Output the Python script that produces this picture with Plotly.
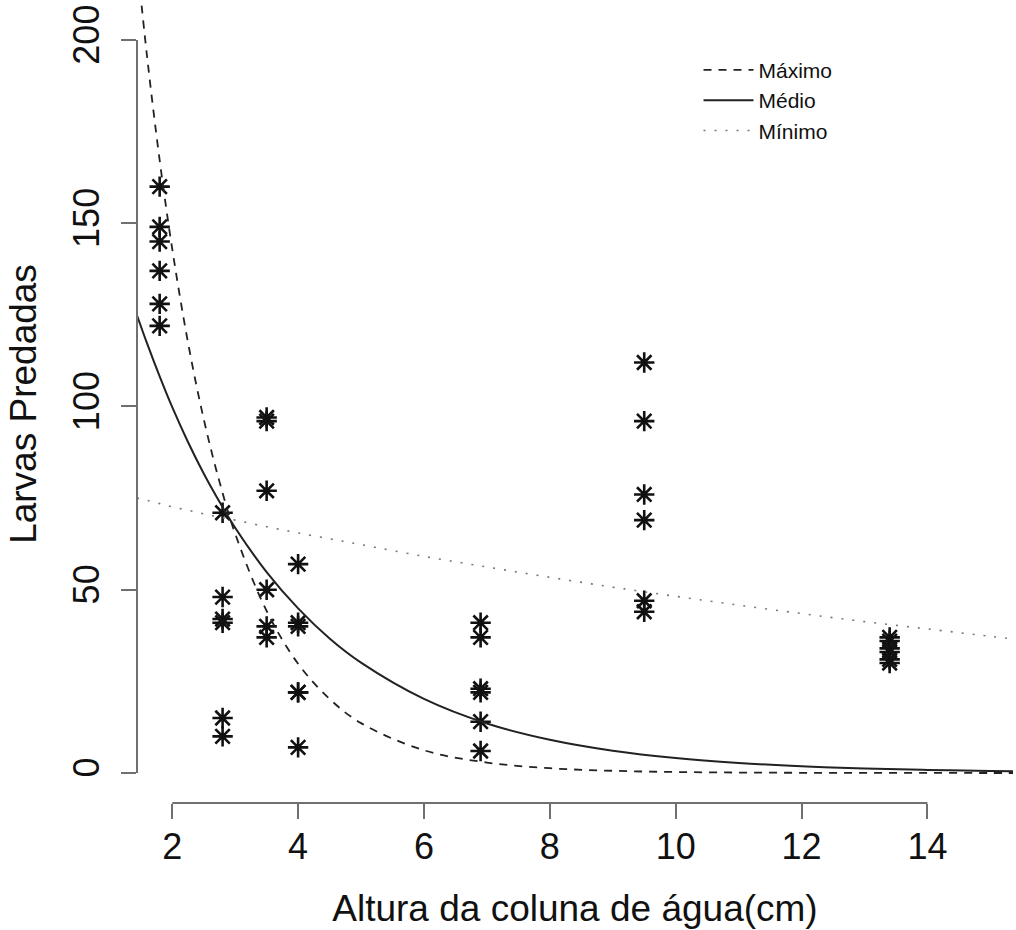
import plotly.graph_objects as go

# Observed data: water column height (cm) and predated larvae
altura = [1.8]*6 + [2.8]*6 + [3.5]*6 + [4.0]*6 + [6.9]*6 + [9.5]*6 + [13.4]*6
larvas = [160, 149, 145, 137, 128, 122,
          71, 48, 42, 41, 15, 10,
          97, 96, 77, 50, 40, 37,
          57, 41, 40, 22, 22, 7,
          41, 37, 23, 22, 14, 6,
          112, 96, 76, 69, 47, 44,
          37, 36, 34, 33, 31, 30]

# Fitted curves
x_curva = [1.44, 1.6, 1.8, 2.0, 2.25, 2.5, 2.75, 3.0, 3.5, 4.0, 4.5, 5.0,
           6.0, 7.0, 8.0, 9.0, 10.0, 11.0, 12.0, 13.0, 14.0, 15.0, 15.4]
maximo = [221.7, 195.5, 167.2, 143.0, 117.5, 96.6, 79.5, 65.3, 44.2, 29.8, 20.2, 13.6,
          6.2, 2.85, 1.3, 0.6, 0.27, 0.12, 0.05, 0.02, 0.01, 0.0, 0.0]
medio = [124.9, 117.2, 108.2, 99.8, 90.3, 81.7, 74.0, 66.9, 54.8, 44.9, 36.7, 30.1,
         20.2, 13.5, 9.06, 6.07, 4.07, 2.73, 1.83, 1.22, 0.82, 0.55, 0.47]
minimo = [75.0, 74.4, 73.5, 72.6, 71.7, 70.7, 69.8, 69.0, 67.2, 65.5, 63.9, 62.3,
          59.1, 56.2, 53.4, 50.7, 48.2, 45.8, 43.5, 41.3, 39.3, 37.3, 36.5]

x_ticks = [2, 4, 6, 8, 10, 12, 14]
y_ticks = [0, 50, 100, 150, 200]

FONT = "Liberation Sans, Arial, Helvetica, sans-serif"
AXIS_COLOR = "#707070"

fig = go.Figure()

fig.add_trace(go.Scatter(
    x=altura, y=larvas, mode="markers", showlegend=False,
    marker=dict(symbol="asterisk-open", size=17, color="#111111",
                line=dict(width=2.6, color="#111111")),
))

fig.add_trace(go.Scatter(x=x_curva, y=maximo, mode="lines", name="Máximo",
                         line=dict(color="#222222", width=1.8, dash="8px,7px", shape="spline")))
fig.add_trace(go.Scatter(x=x_curva, y=medio, mode="lines", name="Médio",
                         line=dict(color="#222222", width=2, shape="spline")))
fig.add_trace(go.Scatter(x=x_curva, y=minimo, mode="lines", name="Mínimo",
                         line=dict(color="#777777", width=1.6, dash="2px,9px", shape="spline")))

# R-style axis lines spanning first to last tick
fig.add_shape(type="line", xref="x", yref="paper", x0=x_ticks[0], x1=x_ticks[-1], y0=0, y1=0,
              line=dict(color=AXIS_COLOR, width=2))
fig.add_shape(type="line", xref="paper", yref="y", x0=0, x1=0, y0=y_ticks[0], y1=y_ticks[-1],
              line=dict(color=AXIS_COLOR, width=2))

fig.update_layout(
    width=1016, height=930,
    margin=dict(l=137, r=3, t=5, b=127, autoexpand=False),
    paper_bgcolor="white", plot_bgcolor="white",
    font=dict(family=FONT, color="#111111"),
    xaxis=dict(range=[1.44, 15.36], tickvals=x_ticks, ticktext=[str(v) for v in x_ticks],
               automargin=False,
               showgrid=False, zeroline=False, showline=False,
               ticks="outside", ticklen=15, tickwidth=2, tickcolor=AXIS_COLOR,
               tickfont=dict(size=36, family=FONT, color="#111111"),
               ticklabelstandoff=-3,
               title=dict(text="Altura da coluna de água(cm)",
                          font=dict(size=37, family=FONT, color="#111111"), standoff=28)),
    yaxis=dict(range=[-8.19, 209.55], tickvals=y_ticks, ticktext=[str(v) for v in y_ticks],
               automargin=False,
               showgrid=False, zeroline=False, showline=False,
               ticks="outside", ticklen=15, tickwidth=2, tickcolor=AXIS_COLOR,
               tickangle=-90,
               tickfont=dict(size=36, family=FONT, color="#111111"),
               ticklabelstandoff=8,
               title=dict(text="Larvas Predadas",
                          font=dict(size=37, family=FONT, color="#111111"), standoff=17)),
    legend=dict(x=0.641, y=0.944, xanchor="left", yanchor="top",
                bgcolor="rgba(0,0,0,0)", borderwidth=0,
                font=dict(size=21, family=FONT, color="#111111"),
                itemwidth=50, tracegroupgap=0),
)

fig.write_html("out.html", config={"displayModeBar": False},
               post_script="document.body.style.margin='0';document.body.style.overflow='hidden';")
